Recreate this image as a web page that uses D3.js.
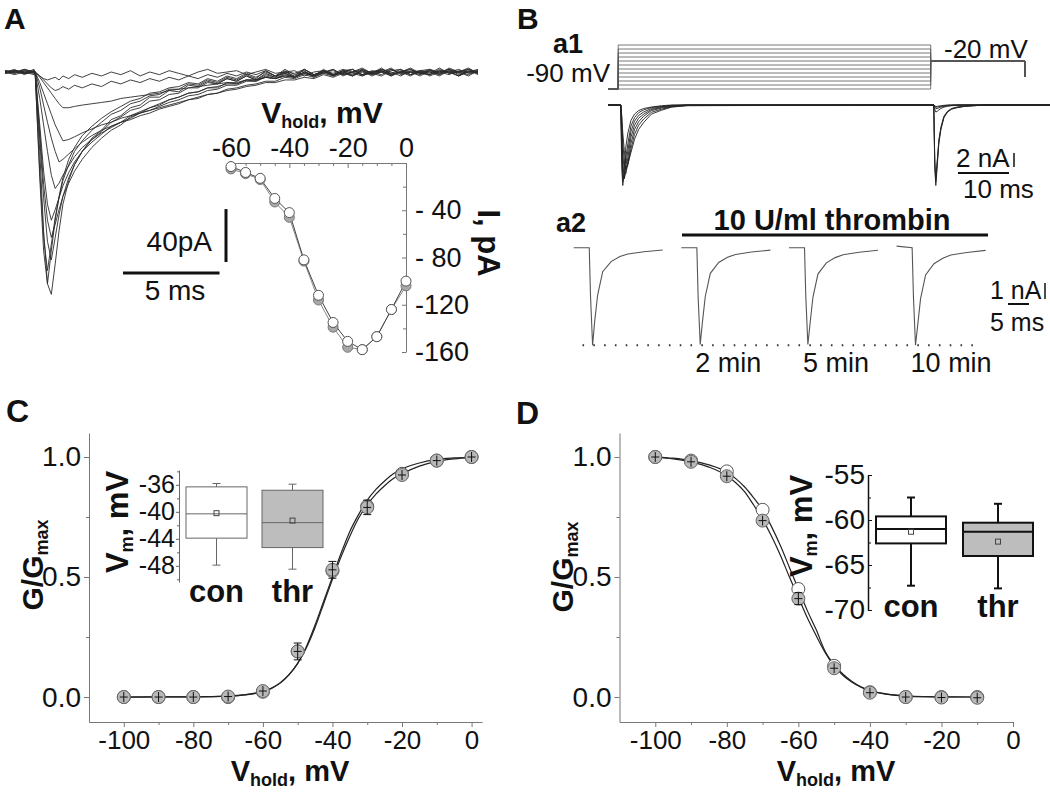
<!DOCTYPE html>
<html>
<head>
<meta charset="utf-8">
<script src="https://cdn.jsdelivr.net/npm/d3@7"></script>
<style>
body { margin: 0; background: #fff; }
svg { display: block; }
</style>
</head>
<body>
<div id="chart"></div>
<script>
var FONT = "'Liberation Sans', Arial, sans-serif";

// ---------- Panel A: current family (time in ms, current in pA) ----------
var traceTimes = [0,0.5,1.0,1.5,1.56,1.8,2.0,2.2,2.4,2.6,2.8,3.0,3.3,3.6,4.0,4.5,5.0,5.5,6.0,6.5,7.0,7.5,8.0,8.5,9.0,9.5,10,10.5,11,11.5,12,12.5,13,13.5,14,14.5,15,15.5,16,16.5,17,17.5,18,18.5,19,19.5,20,20.5,21,21.5,22,22.5,23,23.5,24,24.5];
var traceCurrents = [
  [0,2,-2,1, 0,-60,-120,-160,-168,-145, -120,-100,-82,-70,-60, -50,-44,-36,-33,-27, -25,-19,-19,-14,-15, -10,-11,-7,-9,-5, -7,-3,-6,-1,-4, 1,-4,0,-3,2, -2,1,-3,2,-1, 3,-2,0,-3,1, 2,-2,1,-3,0,2],
  [-1,1,0,-2, 0,-80,-135,-160,-135,-112, -94,-80,-66,-57,-48, -41,-35,-30,-26,-22, -20,-16,-15,-12,-11, -8,-9,-5,-7,-3, -5,-1,-4,0,-3, 2,-2,1,-4,0, 2,-2,0,3,-1, -3,1,2,-2,0, -1,3,-1,0,2,-2],
  [1,-1,2,0, 0,-75,-125,-150,-130,-110, -95,-82,-70,-60,-52, -44,-38,-32,-29,-24, -22,-18,-17,-13,-13, -9,-10,-6,-8,-4, -6,-2,-5,1,-3, -1,-4,2,-2,0, -3,1,2,-2,0, 1,-3,0,2,-1, 0,-2,3,0,-2,1],
  [0,1,-1,0, 0,-50,-95,-128,-142,-125, -108,-94,-80,-70,-60, -51,-45,-38,-34,-29, -27,-22,-21,-17,-16, -12,-12,-8,-9,-5, -7,-3,-6,-2,-4, 0,-3,2,-2,-1, 2,-3,0,1,-2, 0,3,-2,0,1, -3,0,2,-1,0,1],
  [-1,0,2,0, 0,-45,-85,-112,-125,-115, -104,-94,-84,-75,-66, -57,-50,-44,-40,-34, -31,-27,-25,-21,-19, -16,-15,-12,-12,-8, -9,-6,-7,-3,-5, -2,-4,0,-3,1, -2,-1,2,-3,0, 1,-2,0,3,-1, -2,1,0,-3,2,0],
  [0,-2,0,1, 0,-40,-75,-100,-112,-104, -95,-86,-76,-68,-60, -53,-47,-41,-38,-33, -30,-27,-24,-21,-19, -16,-15,-12,-11,-9, -9,-6,-6,-4,-5, -1,-4,0,-2,1, -3,0,2,-2,-1, 2,0,-3,1,0, -2,2,-1,0,3,-1],
  [1,0,-1,2, 0,-20,-40,-60,-78,-88, -84,-78,-71,-64,-57, -51,-46,-42,-38,-35, -31,-29,-26,-23,-21, -18,-17,-14,-13,-10, -10,-7,-7,-4,-5, -3,-4,-1,-3,1, -2,0,-3,1,0, -2,2,-1,0,-3, 1,0,2,-2,0,1],
  [0,1,-1,0, 0,-12,-25,-38,-50,-60, -68,-66,-62,-58,-53, -48,-44,-41,-38,-36, -33,-31,-28,-26,-24, -21,-20,-17,-16,-13, -12,-10,-9,-7,-7, -4,-5,-2,-4,-1, -3,0,-2,1,-3, 0,2,-1,0,-2, 1,-1,2,0,-3,1],
  [0,-1,1,0, 0,-8,-16,-24,-32,-40, -46,-52,-51,-49,-46, -43,-40,-38,-35,-33, -31,-29,-27,-25,-23, -21,-19,-17,-16,-14, -13,-11,-10,-8,-8, -6,-6,-4,-5,-2, -4,-1,-3,0,-2, 1,-2,0,2,-1, -2,1,0,-3,1,0],
  [1,0,-1,0, 0,-4,-8,-12,-16,-20, -24,-27,-27,-26,-25, -24,-23,-22,-20,-19, -18,-17,-16,-14,-13, -12,-11,-10,-9,-8, -8,-6,-6,-4,-5, -3,-4,-1,-3,0, -2,1,-1,-3,0, 2,-1,0,-2,1, 0,-3,1,0,2,-1],
  [0,1,0,-1, 0,-3,-6,-9,-12,-14, -13,-11,-13,-10,-12, -9,-11,-7,-9,-6, -8,-5,-7,-4,-6, -3,-5,-2,-4,-1, -3,0,-2,1,-3, 0,-1,2,-2,0, 1,-2,0,2,-1, 0,-3,1,0,-1, 2,0,-2,1,0,-1],
  [-1,0,1,0, 0,-3,-5,-6,-5,-4, -6,-3,-5,-2,-4, -1,-3,0,-2,1, -3,0,-2,1,-1, -3,0,2,-1,0, 1,-2,0,2,-1, 0,1,-3,0,1, -1,2,0,-2,1, 0,-1,2,-2,0, 1,-1,0,2,-1,0]
];

// I-V inset (mV, pA)
var ivVoltages = [-60,-55,-50,-45,-40,-35,-30,-25,-20,-15,-10,-5,0];
var ivControl  = [-3,-8,-13,-30,-42,-82,-112,-135,-151,-158,-147,-124,-100];
var ivThrombin = [-5,-9,-14,-33,-46,-83,-116,-139,-156,-158,-147,-124,-104];
var ivXTicks = [-60,-40,-20,0];
var ivXTickLabels = ["-60","-40","-20","0"];
var ivYTicks = [-40,-80,-120,-160];
var ivYTickLabels = ["- 40","- 80","-120","-160"];

// ---------- Panel B a1: protocol (mV) and currents (nA) ----------
var a1StepLevels = [-90,-80,-70,-60,-50,-40,-30,-20,-10,0,10,20];
var a1ProtocolTimes = [0, 2, 63.3, 81.8];
var a1HoldV = -90, a1TestV = -20, a1EndV = -60;
var a1EndTime = 86.7;
var a1OnsetTimes = [2.5, 63.9];
var a1TransientTimes = [0,0.2,0.4,0.7,1.0,1.4,2.0,2.7,3.5,4.5,6,8,10,13];
var a1StepCurrents = [
  [0,-9,-11.5,-9,-6,-4,-2.2,-1.3,-0.8,-0.5,-0.3,-0.1,0,0],
  [0,-7,-11,-10,-7.5,-5.5,-3,-1.8,-1.1,-0.7,-0.35,-0.2,-0.05,0],
  [0,-5,-10,-10.5,-8.5,-6.5,-3.8,-2.3,-1.5,-1,-0.5,-0.25,-0.1,0],
  [0,-4,-8.5,-10.5,-9.5,-7.5,-4.6,-2.9,-1.9,-1.3,-0.65,-0.35,-0.15,0],
  [0,-3,-7,-9.5,-9.8,-8.3,-5.5,-3.5,-2.4,-1.6,-0.8,-0.45,-0.2,-0.05],
  [0,-2,-5.5,-8,-9.2,-8.6,-6.3,-4.2,-2.9,-2,-1.05,-0.6,-0.25,-0.08],
  [0,-1.5,-4,-6.5,-8.2,-8.4,-6.8,-4.9,-3.5,-2.5,-1.3,-0.75,-0.3,-0.1]
];
var a1TestCurrents = [
  [0,-9,-11.5,-8.5,-5.5,-3.5,-1.8,-1,-0.6,-0.4,-0.2,-0.1,0,0],
  [0,-8.5,-11,-8,-5.2,-3.3,-1.7,-0.95,-0.55,-0.35,-0.2,-0.1,0,0],
  [0,-8,-10.5,-7.8,-5,-3.2,-1.6,-0.9,-0.5,-0.3,-0.15,-0.05,0,0],
  [0,-0.6,-1,-0.9,-0.7,-0.5,-0.3,-0.2,-0.1,-0.05,0,0,0,0],
  [0,-0.3,-0.5,-0.5,-0.4,-0.3,-0.2,-0.1,-0.05,0,0,0,0,0],
  [0,-0.2,-0.3,-0.3,-0.25,-0.2,-0.1,-0.05,0,0,0,0,0,0],
  [0,-0.1,-0.2,-0.2,-0.15,-0.1,-0.05,0,0,0,0,0,0,0]
];

// ---------- Panel B a2: sweeps before/after thrombin (ms, nA) ----------
var a2Sweeps = ["con","2 min","5 min","10 min"];
var a2Times = [0,3.7,4.0,4.5,5.0,5.7,6.9,8.9,11,12.9,16.7,21.2];
var a2Currents = [
  [0,0,-3.0,-6.1,-4.6,-2.96,-1.5,-0.87,-0.55,-0.39,-0.25,-0.14],
  [0,0,-3.1,-6.05,-4.7,-3.05,-1.6,-0.92,-0.6,-0.42,-0.27,-0.15],
  [0,0,-3.0,-6.05,-4.8,-3.1,-1.65,-0.95,-0.62,-0.44,-0.28,-0.16],
  [0.1,0,-3.0,-6.1,-4.9,-3.2,-1.7,-1.0,-0.66,-0.46,-0.3,-0.17]
];

// ---------- Panel C: activation ----------
var gvVoltages   = [-100,-90,-80,-70,-60,-50,-40,-30,-20,-10,0];
var gvControl    = [0,0,0,0,0.022,0.19,0.525,0.795,0.93,0.985,1.0];
var gvThrombin   = [0,0,0,0.002,0.025,0.19,0.53,0.79,0.925,0.985,1.0];
var gvThrombinErr= [0.005,0.005,0.006,0.008,0.015,0.035,0.035,0.03,0.015,0.01,0.006];
var gvFitV        = [-100,-90,-80,-70,-65,-60,-57.5,-55,-52.5,-50,-47.5,-45,-42.5,-40,-37.5,-35,-32.5,-30,-27.5,-25,-22.5,-20,-15,-10,-5,0];
var gvFitControl  = [0,0.0005,0.001,0.004,0.009,0.022,0.036,0.058,0.092,0.14,0.21,0.30,0.40,0.50,0.60,0.69,0.76,0.82,0.865,0.90,0.93,0.95,0.975,0.99,0.996,0.999];
var gvFitThrombin = [0,0.0005,0.001,0.004,0.01,0.024,0.038,0.06,0.093,0.14,0.205,0.29,0.39,0.49,0.585,0.67,0.745,0.80,0.845,0.88,0.91,0.93,0.962,0.982,0.992,0.997];
var gvBoxLow    = [-47.9,-48.5];
var gvBoxQ1     = [-43.9,-45.3];
var gvBoxMedian = [-40.3,-41.6];
var gvBoxQ3     = [-36.3,-36.8];
var gvBoxHigh   = [-35.8,-35.9];
var gvBoxMean   = [-40.2,-41.3];
var gvBoxTicks = [-36,-40,-44,-48];
var gvBoxTickLabels = ["-36","-40","-44","-48"];

// ---------- Panel D: inactivation ----------
var inVoltages   = [-100,-90,-80,-70,-60,-50,-40,-30,-20,-10];
var inControl    = [1.0,0.985,0.94,0.78,0.45,0.13,0.02,0.0,0.0,0.0];
var inThrombin   = [1.0,0.98,0.92,0.735,0.41,0.12,0.018,0.0,-0.002,-0.003];
var inThrombinErr= [0.008,0.01,0.02,0.02,0.025,0.015,0.01,0.005,0.005,0.005];
var inFitV        = [-100,-95,-90,-85,-80,-77.5,-75,-72.5,-70,-67.5,-65,-62.5,-60,-57.5,-55,-52.5,-50,-47.5,-45,-42.5,-40,-35,-30,-25,-20,-10];
var inFitControl  = [1.0,0.995,0.985,0.967,0.937,0.91,0.875,0.83,0.78,0.71,0.63,0.54,0.45,0.36,0.28,0.19,0.135,0.095,0.065,0.043,0.028,0.012,0.005,0.002,0.001,0];
var inFitThrombin = [0.998,0.992,0.98,0.958,0.922,0.893,0.855,0.80,0.74,0.67,0.59,0.50,0.415,0.33,0.255,0.185,0.13,0.09,0.062,0.041,0.026,0.011,0.004,0.0015,0.0005,0];
var inBoxLow    = [-67.3,-67.6];
var inBoxQ1     = [-62.6,-64.0];
var inBoxMedian = [-61.0,-61.3];
var inBoxQ3     = [-59.6,-60.3];
var inBoxHigh   = [-57.5,-58.2];
var inBoxMean   = [-61.3,-62.4];
var inBoxTicks = [-55,-60,-65,-70];
var inBoxTickLabels = ["-55","-60","-65","-70"];

var boxGroups = ["con","thr"];
var gTicks = [0,0.5,1.0];
var gTickLabels = ["0.0","0.5","1.0"];
var vTicks = [-100,-80,-60,-40,-20,0];
var vTickLabels = ["-100","-80","-60","-40","-20","0"];


function init(){
    var svg = d3.select("#chart")
                .append("svg")
                .attr("width", 1050)
                .attr("height", 792)
                .attr("font-family", FONT);

    svg.append("rect").attr("width", 1050).attr("height", 792).attr("fill", "#fff");

    panelA(svg);
    panelB(svg);
    panelC(svg);
    panelD(svg);
}


// text helper: main + subscript + rest
function subLabel(parent, x, y, rot, main, sub, rest, size, subSize){
    var t = parent.append("text")
        .attr("transform", "translate(" + x + "," + y + ") rotate(" + rot + ")")
        .attr("text-anchor", "middle")
        .attr("font-weight", "bold")
        .attr("font-size", size)
        .attr("fill", "#111");
    t.append("tspan").text(main);
    t.append("tspan").attr("font-size", subSize).attr("dy", 5).text(sub);
    t.append("tspan").attr("dy", -5).text(rest);
    return t;
}

function plainText(parent, x, y, str, size, anchor, weight){
    return parent.append("text")
        .attr("x", x).attr("y", y)
        .attr("text-anchor", anchor || "start")
        .attr("font-size", size)
        .attr("font-weight", weight || "normal")
        .attr("fill", "#111")
        .text(str);
}

function styleAxis(g, size, color){
    g.attr("font-family", FONT).attr("font-size", size).attr("color", color);
    g.selectAll("text").attr("fill", "#111");
}


function panelA(svg){
    var g = svg.append("g");
    plainText(g, 4, 29, "A", 30, "start", "bold");

    var x = d3.scaleLinear().domain([0, 24.5]).range([5, 478]);
    var y = d3.scaleLinear().domain([0, -170]).range([72, 297]);

    var line = d3.line()
        .x(function(d, i){ return x(traceTimes[i]); })
        .y(function(d){ return y(d); });

    g.selectAll(".trace")
        .data(traceCurrents)
        .enter()
        .append("path")
        .attr("class", "trace")
        .attr("d", line)
        .attr("fill", "none")
        .attr("stroke", "#2b2b2b")
        .attr("stroke-width", 0.9);

    // scale bars (40 pA, 5 ms)
    g.append("line").attr("x1", 226).attr("x2", 226)
        .attr("y1", 262).attr("y2", 262 - (y(-40) - y(0)))
        .attr("stroke", "#111").attr("stroke-width", 3);
    g.append("line").attr("x1", 123).attr("x2", 123 + (x(5) - x(0)))
        .attr("y1", 273).attr("y2", 273)
        .attr("stroke", "#111").attr("stroke-width", 3);
    plainText(g, 212, 251, "40pA", 28, "end");
    plainText(g, 175, 300, "5 ms", 28, "middle");

    // I-V inset
    var ivx = d3.scaleLinear().domain([-60, 0]).range([231, 406]);
    var ivy = d3.scaleLinear().domain([0, -160]).range([163, 352]);

    var xAxis = g.append("g").attr("transform", "translate(0,163)")
        .call(d3.axisTop(ivx).tickValues(ivXTicks)
            .tickFormat(function(d, i){ return ivXTickLabels[i]; })
            .tickSizeInner(-5).tickSizeOuter(0).tickPadding(6));
    styleAxis(xAxis, 27, "#777");
    g.append("g").attr("transform", "translate(0,163)")
        .call(d3.axisTop(ivx).tickValues([-55,-50,-45,-35,-30,-25,-15,-10,-5])
            .tickFormat("").tickSizeInner(-3).tickSizeOuter(0))
        .attr("color", "#777").select(".domain").remove();

    var yAxis = g.append("g").attr("transform", "translate(406,0)")
        .call(d3.axisRight(ivy).tickValues(ivYTicks)
            .tickFormat(function(d, i){ return ivYTickLabels[i]; })
            .tickSizeInner(-4).tickSizeOuter(0).tickPadding(9));
    styleAxis(yAxis, 27, "#777");
    g.append("g").attr("transform", "translate(406,0)")
        .call(d3.axisRight(ivy).tickValues([-20,-60,-100,-140])
            .tickFormat("").tickSizeInner(-3).tickSizeOuter(0))
        .attr("color", "#777").select(".domain").remove();

    subLabel(g, 322, 123, 0, "V", "hold", ", mV", 30, 18);
    g.append("text")
        .attr("transform", "translate(478,243) rotate(90)")
        .attr("text-anchor", "middle")
        .attr("font-weight", "bold")
        .attr("font-size", 31)
        .attr("fill", "#111")
        .text("I, pA");

    var ivLine = d3.line()
        .x(function(d, i){ return ivx(ivVoltages[i]); })
        .y(function(d){ return ivy(d); });

    [ivThrombin, ivControl].forEach(function(series, k){
        g.append("path").attr("d", ivLine(series))
            .attr("fill", "none").attr("stroke", k ? "#444" : "#888").attr("stroke-width", 1);
    });
    g.selectAll(".ivThr").data(ivThrombin).enter().append("circle")
        .attr("cx", function(d, i){ return ivx(ivVoltages[i]); })
        .attr("cy", function(d){ return ivy(d); })
        .attr("r", 5).attr("fill", "#a8a8a8").attr("stroke", "#777");
    g.selectAll(".ivCon").data(ivControl).enter().append("circle")
        .attr("cx", function(d, i){ return ivx(ivVoltages[i]); })
        .attr("cy", function(d){ return ivy(d); })
        .attr("r", 5).attr("fill", "#fff").attr("stroke", "#555");
}


function panelB(svg){
    var g = svg.append("g");
    plainText(g, 517, 29, "B", 30, "start", "bold");

    // ---- a1
    plainText(g, 553, 53, "a1", 27, "start", "bold");
    plainText(g, 610, 82, "-90 mV", 26, "end");
    plainText(g, 944, 58, "-20 mV", 26, "start");

    var t = d3.scaleLinear().domain([0, a1EndTime]).range([608, 1050]);
    var v = d3.scaleLinear().domain([-90, -20]).range([89, 61]);
    var cur = d3.scaleLinear().domain([0, -2]).range([105, 119]);

    var pLine = d3.line().x(function(d){ return t(d[0]); }).y(function(d){ return v(d[1]); });
    a1StepLevels.forEach(function(lvl){
        var pts = [[a1ProtocolTimes[0], a1HoldV], [a1ProtocolTimes[1], a1HoldV],
                   [a1ProtocolTimes[1], lvl], [a1ProtocolTimes[2], lvl],
                   [a1ProtocolTimes[2], a1TestV], [a1ProtocolTimes[3], a1TestV],
                   [a1ProtocolTimes[3], a1EndV]];
        g.append("path").attr("d", pLine(pts))
            .attr("fill", "none").attr("stroke", "#555").attr("stroke-width", 0.8);
    });

    var cLine = d3.line().x(function(d){ return t(d[0]); }).y(function(d){ return cur(d[1]); });
    a1StepCurrents.forEach(function(pre, i){
        var pts = [[0, 0]];
        a1TransientTimes.forEach(function(tt, k){ pts.push([a1OnsetTimes[0] + tt, pre[k]]); });
        a1TransientTimes.forEach(function(tt, k){ pts.push([a1OnsetTimes[1] + tt, a1TestCurrents[i][k]]); });
        pts.push([a1EndTime, 0]);
        g.append("path").attr("d", cLine(pts))
            .attr("fill", "none").attr("stroke", "#222").attr("stroke-width", 0.9);
    });

    // a1 scale bars
    plainText(g, 956, 167, "2 nA", 26, "start");
    g.append("line").attr("x1", 1014).attr("x2", 1014)
        .attr("y1", 167).attr("y2", 167 - (cur(-2) - cur(0)))
        .attr("stroke", "#111").attr("stroke-width", 1.5);
    g.append("line").attr("x1", 958).attr("x2", 958 + (t(10) - t(0)))
        .attr("y1", 173).attr("y2", 173)
        .attr("stroke", "#111").attr("stroke-width", 2);
    plainText(g, 963, 198, "10 ms", 26, "start");

    // ---- a2
    plainText(g, 556, 232, "a2", 27, "start", "bold");
    plainText(g, 832, 230, "10 U/ml thrombin", 29, "middle", "bold");
    g.append("line").attr("x1", 682).attr("x2", 988).attr("y1", 235).attr("y2", 235)
        .attr("stroke", "#111").attr("stroke-width", 3);

    var sweepX = d3.scalePoint().domain(a2Sweeps).range([573.7, 896.6]);
    var a2t = d3.scaleLinear().domain([0, 5]).range([0, 21]);
    var a2i = d3.scaleLinear().domain([0, -1]).range([247.7, 263.7]);

    a2Currents.forEach(function(series, s){
        var x0 = sweepX(a2Sweeps[s]);
        var line = d3.line()
            .x(function(d, i){ return x0 + a2t(a2Times[i]); })
            .y(function(d){ return a2i(d); });
        g.append("path").attr("d", line(series))
            .attr("fill", "none").attr("stroke", "#555").attr("stroke-width", 1.1);
        if (s > 0) {
            plainText(g, x0 + 14, 372, a2Sweeps[s], 27, "start");
        }
    });

    var peak = d3.min(a2Currents[0]);
    g.append("line").attr("x1", 582.5).attr("x2", 979)
        .attr("y1", a2i(peak)).attr("y2", a2i(peak))
        .attr("stroke", "#333").attr("stroke-width", 2)
        .attr("stroke-dasharray", "1.6,9.2");

    plainText(g, 990, 299, "1 nA", 25, "start");
    g.append("line").attr("x1", 1045).attr("x2", 1045)
        .attr("y1", 299).attr("y2", 299 - (a2i(-1) - a2i(0)))
        .attr("stroke", "#111").attr("stroke-width", 1.5);
    g.append("line").attr("x1", 1008).attr("x2", 1008 + a2t(5))
        .attr("y1", 304).attr("y2", 304)
        .attr("stroke", "#111").attr("stroke-width", 2);
    plainText(g, 990, 331, "5 ms", 25, "start");
}


// main G/Gmax axes shared by C and D
function gvAxes(g, x, y){
    var xa = g.append("g").attr("transform", "translate(0,722)")
        .call(d3.axisBottom(x).tickValues(vTicks)
            .tickFormat(function(d, i){ return vTickLabels[i]; })
            .tickSizeInner(5).tickSizeOuter(0).tickPadding(4));
    styleAxis(xa, 26, "#777");
    g.append("g").attr("transform", "translate(0,722)")
        .call(d3.axisBottom(x).tickValues([-90,-70,-50,-30,-10]).tickFormat("")
            .tickSizeInner(3).tickSizeOuter(0))
        .attr("color", "#777").select(".domain").remove();

    var ya = g.append("g").attr("transform", "translate(" + x.range()[0] + ",0)")
        .call(d3.axisLeft(y).tickValues(gTicks)
            .tickFormat(function(d, i){ return gTickLabels[i]; })
            .tickSizeInner(5).tickSizeOuter(0).tickPadding(3));
    styleAxis(ya, 28, "#777");
    g.append("g").attr("transform", "translate(" + x.range()[0] + ",0)")
        .call(d3.axisLeft(y).tickValues([0.25,0.75]).tickFormat("")
            .tickSizeInner(3).tickSizeOuter(0))
        .attr("color", "#777").select(".domain").remove();
}

function gvMarks(g, x, y, volts, con, thr, err, fitV, fitCon, fitThr){
    var fit = d3.line()
        .x(function(d, i){ return x(fitV[i]); })
        .y(function(d){ return y(d); })
        .curve(d3.curveMonotoneX);
    [fitCon, fitThr].forEach(function(f){
        g.append("path").attr("d", fit(f))
            .attr("fill", "none").attr("stroke", "#222").attr("stroke-width", 1.2);
    });

    g.selectAll(".con").data(con).enter().append("circle")
        .attr("cx", function(d, i){ return x(volts[i]); })
        .attr("cy", function(d){ return y(d); })
        .attr("r", 6.5).attr("fill", "#fff").attr("stroke", "#555");
    g.selectAll(".thr").data(thr).enter().append("circle")
        .attr("cx", function(d, i){ return x(volts[i]); })
        .attr("cy", function(d){ return y(d); })
        .attr("r", 6.5).attr("fill", "#b8b8b8").attr("stroke", "#666");

    thr.forEach(function(d, i){
        var cx = x(volts[i]), cy = y(d);
        var e = Math.max(y(d - err[i]) - cy, 5);
        g.append("line").attr("x1", cx).attr("x2", cx).attr("y1", cy - e).attr("y2", cy + e)
            .attr("stroke", "#111").attr("stroke-width", 1);
        g.append("line").attr("x1", cx - 4).attr("x2", cx + 4).attr("y1", cy).attr("y2", cy)
            .attr("stroke", "#111").attr("stroke-width", 1);
        if (e > 5) {
            [cy - e, cy + e].forEach(function(yy){
                g.append("line").attr("x1", cx - 4).attr("x2", cx + 4).attr("y1", yy).attr("y2", yy)
                    .attr("stroke", "#111").attr("stroke-width", 1);
            });
        }
    });
}

function boxPlot(g, bx, by, low, q1, med, q3, high, mean, half, color, width){
    var fills = ["#fff", "#bdbdbd"];
    boxGroups.forEach(function(name, i){
        var cx = bx(name);
        g.append("line").attr("x1", cx).attr("x2", cx).attr("y1", by(high[i])).attr("y2", by(q3[i]))
            .attr("stroke", color).attr("stroke-width", width);
        g.append("line").attr("x1", cx).attr("x2", cx).attr("y1", by(q1[i])).attr("y2", by(low[i]))
            .attr("stroke", color).attr("stroke-width", width);
        [high[i], low[i]].forEach(function(vv){
            g.append("line").attr("x1", cx - 4).attr("x2", cx + 4).attr("y1", by(vv)).attr("y2", by(vv))
                .attr("stroke", color).attr("stroke-width", width);
        });
        g.append("rect")
            .attr("x", cx - half).attr("y", by(q3[i]))
            .attr("width", half * 2).attr("height", by(q1[i]) - by(q3[i]))
            .attr("fill", fills[i]).attr("stroke", color).attr("stroke-width", width);
        g.append("line").attr("x1", cx - half).attr("x2", cx + half)
            .attr("y1", by(med[i])).attr("y2", by(med[i]))
            .attr("stroke", color).attr("stroke-width", width);
        g.append("rect")
            .attr("x", cx - 2.5).attr("y", by(mean[i]) - 2.5)
            .attr("width", 5).attr("height", 5)
            .attr("fill", "none").attr("stroke", "#444").attr("stroke-width", 1);
        plainText(g, cx, null, name, 31, "middle", "bold").attr("class", "cat");
    });
}


function panelC(svg){
    var g = svg.append("g");
    plainText(g, 6, 422, "C", 32, "start", "bold");

    var x = d3.scaleLinear().domain([-110, 3]).range([89, 482]);
    var y = d3.scaleLinear().domain([-0.104, 1.1]).range([722, 433]);
    gvAxes(g, x, y);

    subLabel(g, 290, 781, 0, "V", "hold", ", mV", 29, 18);
    subLabel(g, 43, 565, -90, "G/G", "max", "", 30, 18);

    // inset box plot
    var by = d3.scaleLinear().domain([-33.8, -50.4]).range([470, 582]);
    var bx = d3.scalePoint().domain(boxGroups).range([216.5, 292.5]);
    var ia = g.append("g").attr("transform", "translate(179,0)")
        .call(d3.axisLeft(by).tickValues(gvBoxTicks)
            .tickFormat(function(d, i){ return gvBoxTickLabels[i]; })
            .tickSizeInner(3).tickSizeOuter(0).tickPadding(1));
    styleAxis(ia, 25, "#666");
    g.append("g").attr("transform", "translate(179,0)")
        .call(d3.axisLeft(by).tickValues([-34,-38,-42,-46,-50]).tickFormat("")
            .tickSizeInner(2).tickSizeOuter(0))
        .attr("color", "#666").select(".domain").remove();

    boxPlot(g, bx, by, gvBoxLow, gvBoxQ1, gvBoxMedian, gvBoxQ3, gvBoxHigh, gvBoxMean, 30.5, "#666", 1);
    g.selectAll(".cat").attr("y", 602);
    subLabel(g, 128, 522, -90, "V", "m", ", mV", 31, 18);

    gvMarks(g, x, y, gvVoltages, gvControl, gvThrombin, gvThrombinErr, gvFitV, gvFitControl, gvFitThrombin);
}


function panelD(svg){
    var g = svg.append("g");
    plainText(g, 516, 424, "D", 32, "start", "bold");

    var x = d3.scaleLinear().domain([-110, 0]).range([619.5, 1013]);
    var y = d3.scaleLinear().domain([-0.104, 1.1]).range([722, 433]);
    gvAxes(g, x, y);

    subLabel(g, 836, 781, 0, "V", "hold", ", mV", 29, 18);
    subLabel(g, 573, 567, -90, "G/G", "max", "", 30, 18);

    gvMarks(g, x, y, inVoltages, inControl, inThrombin, inThrombinErr, inFitV, inFitControl, inFitThrombin);

    // inset box plot
    var by = d3.scaleLinear().domain([-55, -70]).range([475, 610]);
    var bx = d3.scalePoint().domain(boxGroups).range([911, 998]);
    var ia = g.append("g").attr("transform", "translate(868,0)")
        .call(d3.axisLeft(by).tickValues(inBoxTicks)
            .tickFormat(function(d, i){ return inBoxTickLabels[i]; })
            .tickSizeInner(-4).tickSizeOuter(0).tickPadding(3));
    styleAxis(ia, 28, "#111");
    ia.select(".domain").attr("stroke-width", 1.5);
    g.append("g").attr("transform", "translate(868,0)")
        .call(d3.axisLeft(by).tickValues([-57.5,-62.5,-67.5]).tickFormat("")
            .tickSizeInner(-3).tickSizeOuter(0))
        .attr("color", "#111").select(".domain").remove();

    boxPlot(g, bx, by, inBoxLow, inBoxQ1, inBoxMedian, inBoxQ3, inBoxHigh, inBoxMean, 35, "#111", 2);
    g.selectAll(".cat").attr("y", 617);
    subLabel(g, 812, 526, -90, "V", "m", ", mV", 31, 18);
}

window.onload = init;
</script>
</body>
</html>
